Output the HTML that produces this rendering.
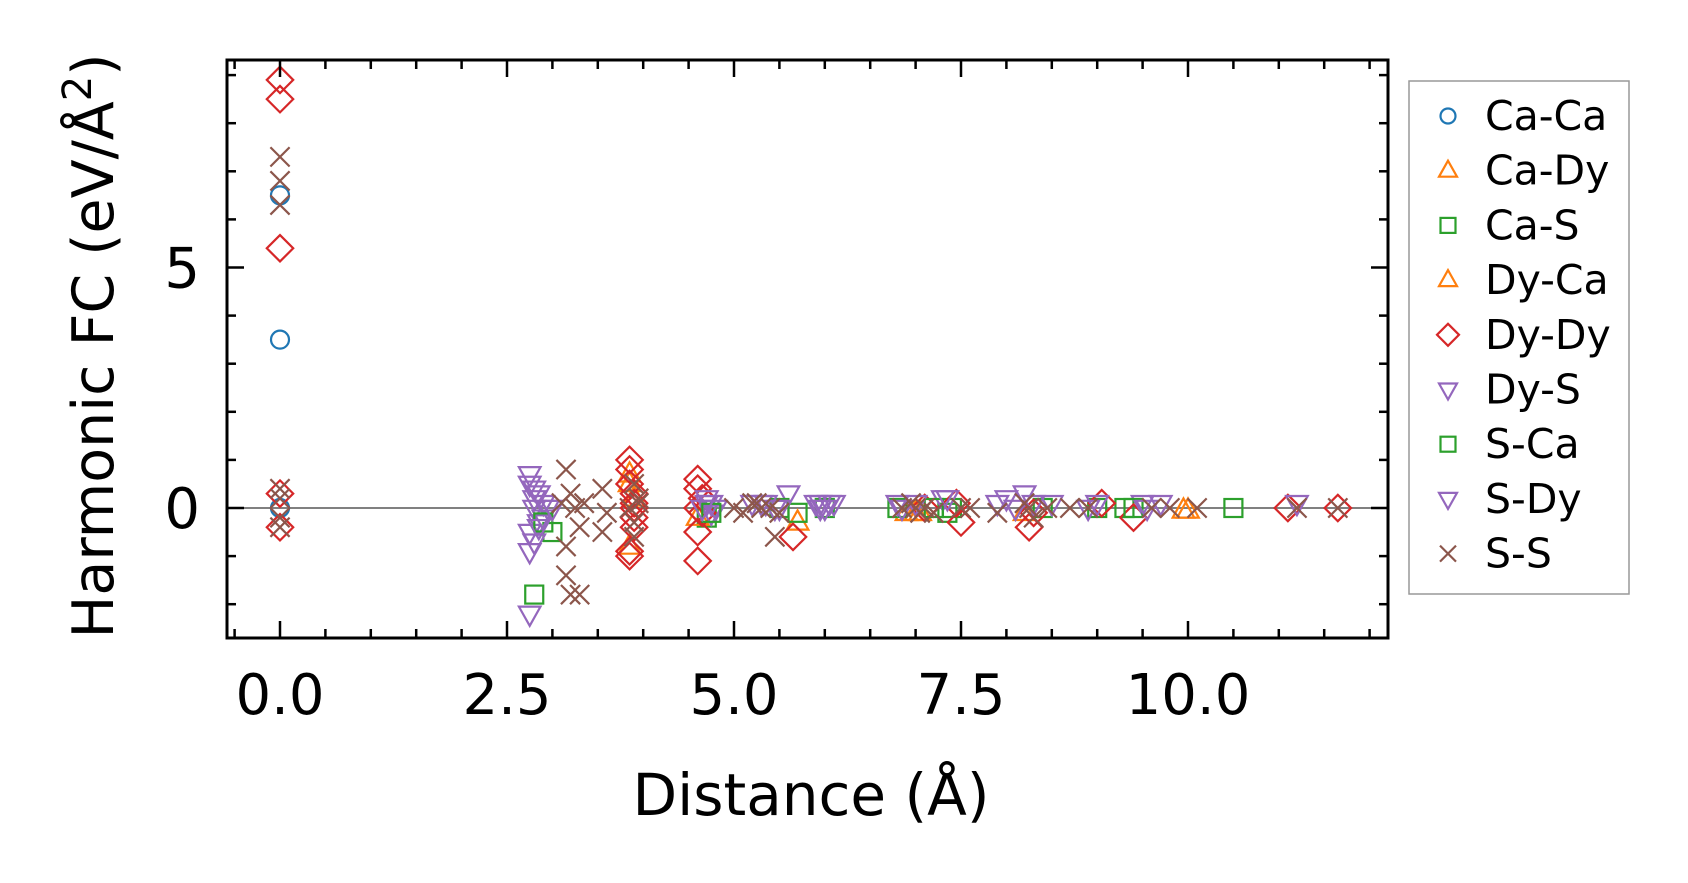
<!DOCTYPE html>
<html><head><meta charset="utf-8"><style>
html,body{margin:0;padding:0;background:#fff;}
svg{display:block;font-family:"DejaVu Sans","Liberation Sans",sans-serif;}
</style></head><body>
<svg id="chart" width="1688" height="883" viewBox="0 0 1688 883" xmlns="http://www.w3.org/2000/svg"></svg>
<script>
const xTicks=[0,2.5,5,7.5,10];
const xTickLabels=["0.0","2.5","5.0","7.5","10.0"];
const yTicks=[0,5];
const yTickLabels=["0","5"];
const seriesNames=["Ca-Ca","Ca-Dy","Ca-S","Dy-Ca","Dy-Dy","Dy-S","S-Ca","S-Dy","S-S"];
const caCaX=[0,0,0];
const caCaY=[6.5,3.5,0];
const caDyX=[3.85,3.85,3.9,7.0,8.2,10.0,5.7,6.9];
const caDyY=[0.7,-0.8,0.2,-0.1,-0.1,-0.05,-0.3,-0.1];
const caSX=[2.8,3.0,4.7,5.7,6.8,7.4,8.4,9.0,9.3,10.5,6.0,7.35];
const caSY=[-1.8,-0.5,-0.2,-0.1,0,0,0,0,0,0,0,-0.1];
const dyCaX=[3.85,4.6,7.05,9.95];
const dyCaY=[0.5,-0.2,-0.1,-0.05];
const dyDyX=[0,0,0,0,0,3.85,3.85,3.85,3.85,3.9,3.9,3.9,3.9,3.85,3.9,4.6,4.6,4.6,4.6,4.65,4.65,4.6,5.65,7.1,7.45,7.5,8.25,8.3,9.05,9.4,11.1,11.65];
const dyDyY=[8.9,8.5,5.4,0.3,-0.4,1.0,0.8,-0.9,-1.0,0.3,0.1,-0.2,-0.4,0.5,0.0,0.6,0.4,-0.5,-1.1,0.2,-0.1,0.0,-0.6,0.0,0.1,-0.3,-0.4,-0.1,0.1,-0.2,0,0];
const dyS_X=[2.75,2.75,2.75,2.75,2.75,2.8,2.85,2.9,2.8,2.8,2.85,2.9,2.95,4.7,4.75,4.8,4.7,4.75,5.3,5.6,5.9,6.0,6.1,5.95,6.8,6.85,7.3,7.9,8.0,8.2,8.3,9.0,9.5,9.7,11.2];
const dyS_Y=[0.7,0.5,-0.5,-0.9,-2.2,0.2,-0.3,0.1,-0.7,0.0,0.3,-0.2,0.0,0.1,0.1,0.0,0.2,-0.1,0.1,0.3,0.1,0.0,0.1,0.1,0.1,0.0,0.2,0.1,0.2,0.3,0.1,0.1,0.1,0.1,0.1];
const sCaX=[2.9,4.75,5.5,7.2,9.4];
const sCaY=[-0.3,-0.1,0,0,0];
const sDyX=[2.8,2.85,3.0,4.65,5.2,5.5,5.95,6.05,7.0,7.35,8.1,8.5,8.9,9.55,5.35,5.45];
const sDyY=[0.4,-0.4,0.0,0.0,0.1,0.0,0.0,0.1,0.1,0.2,0.0,0.1,0.0,0.0,0.1,0.0];
const sSX=[0,0,0,0,0,0,0,3.15,3.15,3.15,3.2,3.3,3.2,3.3,3.1,3.25,3.35,3.55,3.55,3.6,3.9,3.9,3.85,3.95,3.9,3.95,5.0,5.1,5.2,5.3,5.45,5.5,5.25,5.4,6.85,6.95,7.0,7.05,7.1,7.2,7.5,7.6,7.9,8.3,8.2,8.25,8.45,8.7,8.9,9.6,9.8,10.1,11.2,11.65];
const sSY=[7.3,6.8,6.3,0.4,0.2,-0.2,-0.4,0.8,-0.8,-1.4,-1.8,-1.8,0.3,-0.4,0.1,0.0,0.1,0.4,-0.5,-0.1,0.5,-0.6,0.0,0.2,-0.3,0.1,0.0,-0.1,0.1,0.0,-0.6,-0.1,0.1,0.0,0.0,0.1,0.0,-0.1,0.0,-0.1,0.0,0.0,-0.1,-0.2,0.1,0.0,0.0,0.0,0.0,0.0,0.0,0.0,0.0,0.0];

const L=227,R=1388,T=60,B=638;
const X0=280,XU=90.8,Y0=508,YU=48.1;
const xs=v=>X0+v*XU, ys=v=>Y0-v*YU;
const NS="http://www.w3.org/2000/svg";
const svg=document.getElementById('chart');
function mk(tag,at,parent){const e=document.createElementNS(NS,tag);for(const k in at)e.setAttribute(k,at[k]);(parent||svg).appendChild(e);return e;}

const zl=mk('line',{x1:L,x2:R,y1:ys(0),y2:ys(0),stroke:'#808080','stroke-width':2});



function marker(shape,color,cx,cy,g,s){
  s=s||12;let e;
  const st={fill:'none',stroke:color,'stroke-width':2.2};
  if(shape==='o'){e=mk('circle',Object.assign({cx:cx,cy:cy,r:s*0.75},st),g);}
  else if(shape==='^'){e=mk('polygon',Object.assign({points:`${cx},${cy-s} ${cx-s*0.9},${cy+s*0.6} ${cx+s*0.9},${cy+s*0.6}`},st),g);}
  else if(shape==='v'){e=mk('polygon',Object.assign({points:`${cx},${cy+s} ${cx-s*0.9},${cy-s*0.6} ${cx+s*0.9},${cy-s*0.6}`},st),g);}
  else if(shape==='s'){e=mk('rect',Object.assign({x:cx-s*0.75,y:cy-s*0.75,width:s*1.5,height:s*1.5},st),g);}
  else if(shape==='D'){e=mk('polygon',Object.assign({points:`${cx},${cy-s*1.1} ${cx+s*1.1},${cy} ${cx},${cy+s*1.1} ${cx-s*1.1},${cy}`},st),g);}
  else {e=mk('path',Object.assign({d:`M${cx-s*0.8},${cy-s*0.8}L${cx+s*0.8},${cy+s*0.8}M${cx-s*0.8},${cy+s*0.8}L${cx+s*0.8},${cy-s*0.8}`},st),g);}
  return e;
}
const series=[
 [caCaX,caCaY,'o','#1f77b4'],[caDyX,caDyY,'^','#ff7f0e'],[caSX,caSY,'s','#2ca02c'],
 [dyCaX,dyCaY,'^','#ff7f0e'],[dyDyX,dyDyY,'D','#d62728'],[dyS_X,dyS_Y,'v','#9467bd'],
 [sCaX,sCaY,'s','#2ca02c'],[sDyX,sDyY,'v','#9467bd'],[sSX,sSY,'x','#8c564b']];
series.forEach((sr,i)=>{
  const g=mk('g',{});
  
  
  sr[0].forEach((xv,j)=>{
    const m=marker(sr[2],sr[3],xs(xv),ys(sr[1][j]),g);
    
    
  });
});

const fr=mk('rect',{x:L,y:T,width:R-L,height:B-T,fill:'none',stroke:'#000','stroke-width':3});



const tg=mk('g',{stroke:'#000','stroke-width':2.5});


for(let v=-0.5;v<=12.3;v+=0.5){const x=xs(v);if(x<L+2||x>R-2)continue;const maj=xTicks.some(t=>Math.abs(t-v)<1e-6);const len=maj?17:9;
 mk('line',{x1:x,x2:x,y1:B,y2:B-len},tg);mk('line',{x1:x,x2:x,y1:T,y2:T+len},tg);}
for(let v=-3;v<=10;v+=1){const y=ys(v);if(y<T+2||y>B-2)continue;const maj=yTicks.includes(v);const len=maj?17:9;
 mk('line',{x1:L,x2:L+len,y1:y,y2:y},tg);mk('line',{x1:R,x2:R-len,y1:y,y2:y},tg);}
xTicks.forEach((v,i)=>{const t=mk('text',{x:xs(v),y:714,'font-size':56,'text-anchor':'middle'});t.textContent=xTickLabels[i];
 });
yTicks.forEach((v,i)=>{const t=mk('text',{x:200,y:ys(v)+20,'font-size':56,'text-anchor':'end'});t.textContent=yTickLabels[i];
 });
const xt=mk('text',{x:811,y:815,'font-size':58,'text-anchor':'middle'});xt.textContent='Distance (Å)';

const yt=mk('text',{x:0,y:0,'font-size':57,'text-anchor':'middle',transform:'translate(113,346) rotate(-90)'});
yt.innerHTML='Harmonic FC (eV/Å<tspan dy="-22" font-size="40">2</tspan><tspan dy="22">)</tspan>';


const lg=mk('g',{});


mk('rect',{x:1409,y:81,width:220,height:513,fill:'#fff',stroke:'#999','stroke-width':1.5},lg);
series.forEach((sr,i)=>{
  const y=116+i*54.7;
  const e=mk('g',{},lg);
  
  
  marker(sr[2],sr[3],1448,y,e,10);
  const t=mk('text',{x:1485,y:y+14,'font-size':41},e);t.textContent=seriesNames[i];
});
</script>
</body></html>
